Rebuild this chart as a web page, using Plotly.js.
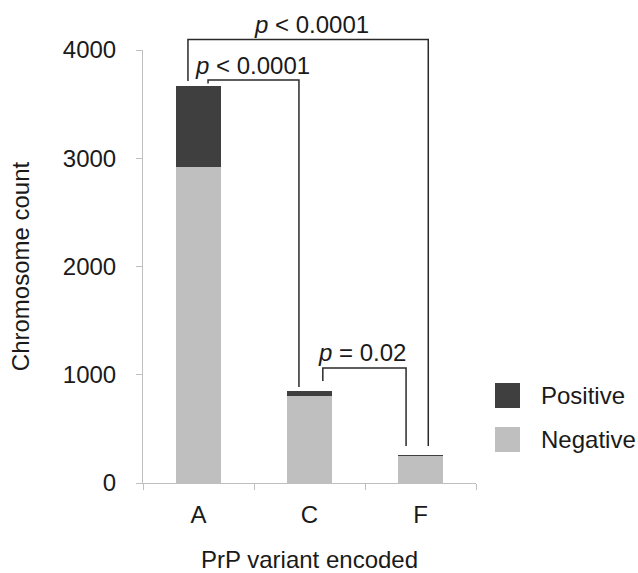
<!DOCTYPE html>
<html>
<head>
<meta charset="utf-8">
<script src="https://cdn.plot.ly/plotly-3.0.1.min.js"></script>
<style>html,body{margin:0;padding:0;background:#fff;}#chart{width:638px;height:573px;}</style>
</head>
<body>
<div id="chart"></div>
<script>
// ---- data ----
const categories = ["A", "C", "F"];
const negativeValues = [2915, 800, 253];
const positiveValues = [755, 50, 5];
const seriesNames = ["Positive", "Negative"];
const yTickValues = [0, 1000, 2000, 3000, 4000];
const bracketLabels = ["p < 0.0001", "p < 0.0001", "p = 0.02"];

// ---- styling / annotation geometry ----
const FONT = "Liberation Sans, Arial, sans-serif";
const TXT = "#1a1a1a";
const DARK = "#3f3f3f";
const LIGHT = "#bfbfbf";
const Y_MAX = 4000;

// brackets in data units: [xLeft, xRight, yTop, yLeftEnd, yRightEnd, textX, textY]
const bracketGeom = [
  [-0.095, 2.07, 4097, 3714, 342, 1.02, 4235],
  [0.086, 0.905, 3723, 3690, 887, 0.49, 3858],
  [1.12, 1.87, 1062, 942, 342, 1.47, 1208]
];

const px = x => (x + 0.5) / categories.length; // category -> paper x
const py = y => y / Y_MAX;                     // value -> paper y

const shapes = [];
const annotations = [];
const lineStyle = {color: "#2a2a2a", width: 1.5};
bracketGeom.forEach((g, i) => {
  const [x0, x1, yt, yl, yr, tx, ty] = g;
  shapes.push({type: "path", xref: "paper", yref: "paper",
    path: `M${px(x0)},${py(yl)} L${px(x0)},${py(yt)} L${px(x1)},${py(yt)} L${px(x1)},${py(yr)}`,
    line: lineStyle});
  const parts = bracketLabels[i].split(" ");
  annotations.push({xref: "paper", yref: "paper", x: px(tx), y: py(ty),
    text: "<i>" + parts[0] + "</i> " + parts.slice(1).join(" "),
    showarrow: false, font: {family: FONT, size: 24, color: TXT}, xanchor: "center", yanchor: "middle"});
});

// custom legend (large swatches)
const legendColors = [DARK, LIGHT];
const plotW = 333, plotH = 433;
seriesNames.forEach((name, i) => {
  const top = 383 + i * 44;  // pixel positions of swatches
  const toPX = p => (p - 143) / plotW;
  const toPY = p => (483 - p) / plotH;
  shapes.push({type: "rect", xref: "paper", yref: "paper",
    x0: toPX(495), x1: toPX(520), y0: toPY(top + 25), y1: toPY(top),
    fillcolor: legendColors[i], line: {width: 0}});
  annotations.push({xref: "paper", yref: "paper", x: toPX(539), y: toPY(top + 12.5),
    text: name, showarrow: false, xanchor: "left", yanchor: "middle",
    font: {family: FONT, size: 24, color: TXT}});
});

const traces = [
  {type: "bar", name: seriesNames[1], x: categories, y: negativeValues,
   marker: {color: LIGHT, line: {width: 0}}, showlegend: false, hoverinfo: "none"},
  {type: "bar", name: seriesNames[0], x: categories, y: positiveValues,
   marker: {color: DARK, line: {width: 0}}, showlegend: false, hoverinfo: "none"}
];

const layout = {
  width: 638, height: 573,
  margin: {l: 143, r: 162, t: 50, b: 90, pad: 0},
  paper_bgcolor: "#fff", plot_bgcolor: "#fff",
  barmode: "stack", bargap: 0.595,
  font: {family: FONT, size: 24, color: TXT},
  showlegend: false,
  xaxis: {
    type: "category", range: [-0.5, 2.5],
    showline: true, linecolor: LIGHT, linewidth: 1,
    ticks: "outside", tickson: "boundaries", ticklen: 6, tickcolor: LIGHT, tickwidth: 1,
    ticklabelstandoff: 10,
    showgrid: false, zeroline: false,
    tickfont: {family: FONT, size: 24, color: TXT},
    title: {text: "PrP variant encoded", font: {family: FONT, size: 24, color: TXT}, standoff: 24}
  },
  yaxis: {
    range: [0, Y_MAX], tickvals: yTickValues, ticktext: yTickValues.map(String),
    showline: true, linecolor: LIGHT, linewidth: 1,
    ticks: "outside", ticklen: 6, tickcolor: LIGHT, tickwidth: 1,
    ticklabelstandoff: 15,
    showgrid: false, zeroline: false,
    tickfont: {family: FONT, size: 24, color: TXT},
    title: {text: "Chromosome count", font: {family: FONT, size: 24, color: TXT}, standoff: 26}
  },
  shapes: shapes,
  annotations: annotations
};

Plotly.newPlot("chart", traces, layout, {displayModeBar: false, staticPlot: true});
</script>
</body>
</html>
